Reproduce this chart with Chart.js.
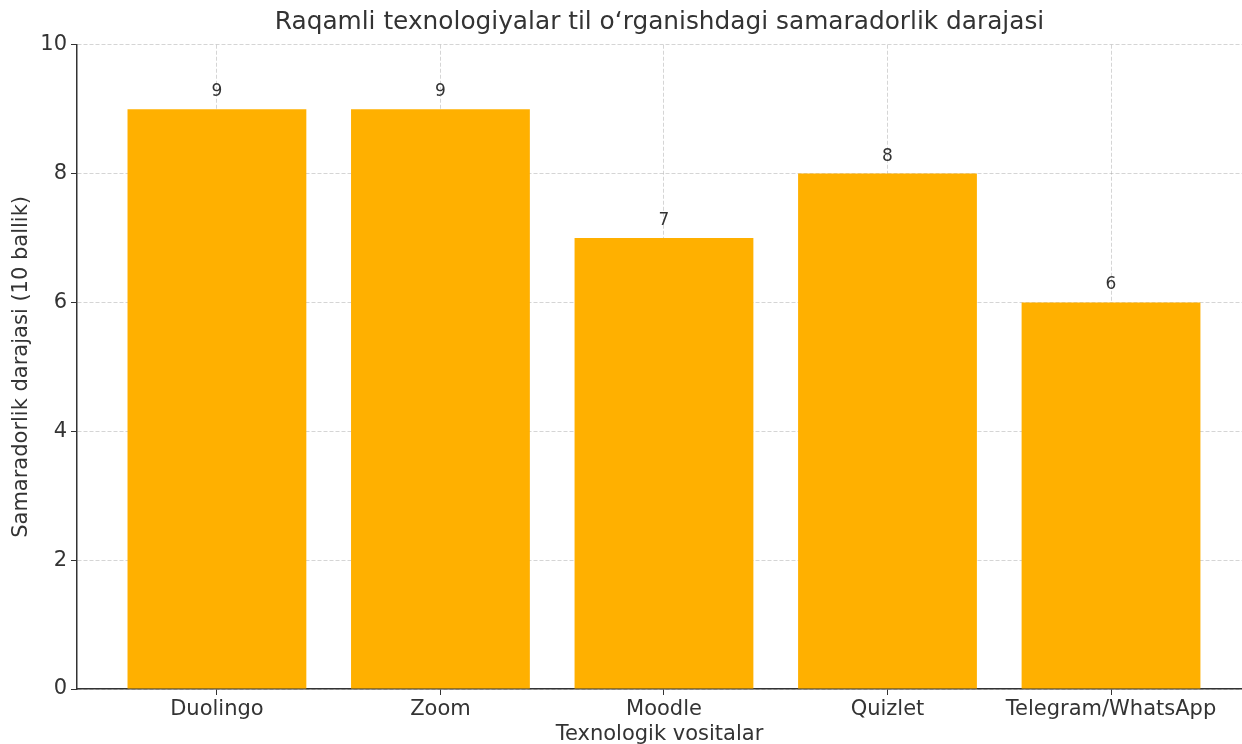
<!DOCTYPE html>
<html>
<head>
<meta charset="utf-8">
<script src="https://cdn.jsdelivr.net/npm/chart.js@4"></script>
<style>
  html, body { margin: 0; padding: 0; background: #fff; }
  #wrap { width: 1242px; height: 744px; }
</style>
</head>
<body>
<div id="wrap"><canvas id="chart" width="1242" height="744"></canvas></div>
<script>
const tools = ['Duolingo', 'Zoom', 'Moodle', 'Quizlet', 'Telegram/WhatsApp'];
const scores = [9, 9, 7, 8, 6];
const yTicks = [0, 2, 4, 6, 8, 10];

const textColor = '#333333';
const gridColor = 'rgba(150, 150, 150, 0.4)';

// value labels above each bar
const valueLabels = {
  id: 'valueLabels',
  afterDatasetsDraw(chart) {
    const ctx = chart.ctx;
    const meta = chart.getDatasetMeta(0);
    ctx.save();
    ctx.font = '17px "DejaVu Sans"';
    ctx.fillStyle = textColor;
    ctx.textAlign = 'center';
    ctx.textBaseline = 'bottom';
    meta.data.forEach((bar, i) => {
      ctx.fillText(String(scores[i]), bar.x, bar.y - 9);
    });
    ctx.restore();
  }
};

new Chart(document.getElementById('chart').getContext('2d'), {
  type: 'bar',
  data: {
    datasets: [{
      data: tools.map((t, i) => ({ x: i, y: scores[i] })),
      backgroundColor: '#FFB000',
      borderWidth: 0,
      barPercentage: 0.8,
      categoryPercentage: 1.0
    }]
  },
  options: {
    responsive: false,
    animation: false,
    layout: { padding: 0 },
    plugins: {
      legend: { display: false },
      tooltip: { enabled: false },
      title: {
        display: true,
        text: 'Raqamli texnologiyalar til o‘rganishdagi samaradorlik darajasi',
        color: textColor,
        fullSize: false,
        font: { family: 'DejaVu Sans', size: 24.8, weight: 'normal' },
        padding: { top: 8, bottom: 7 }
      }
    },
    scales: {
      x: {
        type: 'linear',
        min: -0.626,
        max: 4.586,
        offset: false,
        z: 1,
        afterBuildTicks(scale) {
          scale.ticks = tools.map((t, i) => ({ value: i }));
        },
        afterFit(scale) { scale.height = 55; },
        ticks: {
          color: textColor,
          font: { family: 'DejaVu Sans', size: 21 },
          padding: 2,
          maxRotation: 0,
          autoSkip: false,
          callback: (v) => tools[v]
        },
        grid: {
          offset: false,
          color: gridColor,
          lineWidth: 1,
          tickLength: 6,
          tickColor: '#333333'
        },
        border: { display: true, color: '#333333', width: 1.5, dash: [4, 2] },
        title: {
          display: true,
          text: 'Texnologik vositalar',
          color: textColor,
          font: { family: 'DejaVu Sans', size: 21 },
          padding: { top: 0, bottom: -3 }
        }
      },
      y: {
        min: 0,
        max: 10,
        z: 1,
        afterBuildTicks(scale) {
          scale.ticks = yTicks.map(v => ({ value: v }));
        },
        afterFit(scale) { scale.width = 77; },
        ticks: {
          color: textColor,
          font: { family: 'DejaVu Sans', size: 21 },
          padding: 4
        },
        grid: {
          color: gridColor,
          lineWidth: 1,
          tickLength: 6,
          tickColor: '#333333'
        },
        border: { display: true, color: '#333333', width: 1.5, dash: [4, 2] },
        title: {
          display: true,
          text: 'Samaradorlik darajasi (10 ballik)',
          color: textColor,
          font: { family: 'DejaVu Sans', size: 21 },
          padding: { top: 9, bottom: 0 }
        }
      }
    }
  },
  plugins: [valueLabels]
});
</script>
</body>
</html>
